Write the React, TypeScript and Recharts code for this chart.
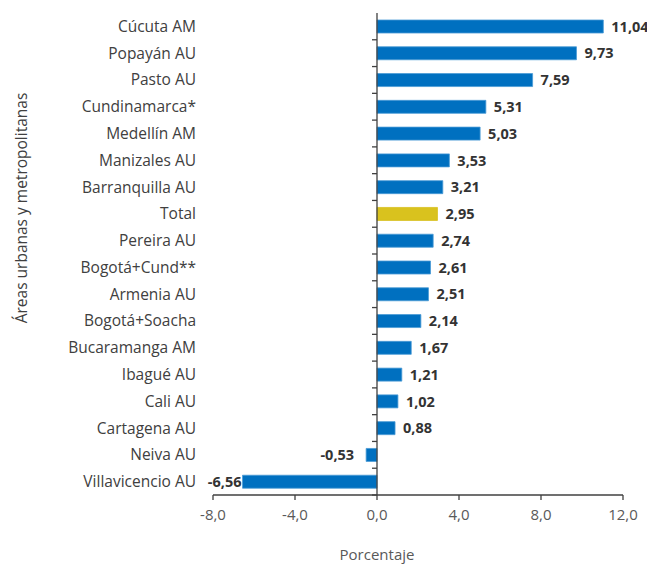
import { Bar, BarChart, Cell, LabelList, ReferenceLine, XAxis, YAxis } from "recharts";

const categories = [
  "Cúcuta AM",
  "Popayán AU",
  "Pasto AU",
  "Cundinamarca*",
  "Medellín AM",
  "Manizales AU",
  "Barranquilla AU",
  "Total",
  "Pereira AU",
  "Bogotá+Cund**",
  "Armenia AU",
  "Bogotá+Soacha",
  "Bucaramanga AM",
  "Ibagué AU",
  "Cali AU",
  "Cartagena AU",
  "Neiva AU",
  "Villavicencio AU",
];

const values = [
  11.04, 9.73, 7.59, 5.31, 5.03, 3.53, 3.21, 2.95, 2.74, 2.61, 2.51, 2.14, 1.67, 1.21,
  1.02, 0.88, -0.53, -6.56,
];

const xTicks = [-8, -4, 0, 4, 8, 12];

const data = categories.map((name, i) => ({ name, value: values[i] }));

const FONT = "'Open Sans', sans-serif";
const BLUE = "#0070C0";
const BLUE_EDGE = "#4A9BD6";
const GOLD = "#D9C21E";
const AXIS = "#404040";

const fmt = (v: number, digits: number) => v.toFixed(digits).replace(".", ",");

// value label just outside the end of each bar
const ValueLabel = (props: any) => {
  const { x, y, width, height, value } = props;
  const end = Math.max(x, x + width);
  const start = Math.min(x, x + width);
  const cy = y + height / 2;
  const neg = value < 0;
  const gap = neg ? (value < -5 ? 1 : 12) : 8;
  return (
    <text
      x={neg ? start - gap : end + gap}
      y={cy}
      dy="0.36em"
      textAnchor={neg ? "end" : "start"}
      fontFamily={FONT}
      fontSize={14.5}
      fontWeight="bold"
      fill="#333"
    >
      {fmt(value, 2)}
    </text>
  );
};

// zero line with small ticks between categories
const ZeroAxis = (props: any) => {
  const { x1, y1, y2 } = props;
  const n = categories.length;
  const step = (y2 - y1) / n;
  const marks = Array.from({ length: n }, (_, i) => y1 + i * step);
  return (
    <g>
      <line x1={x1} y1={y1} x2={x1} y2={y2} stroke={AXIS} strokeWidth={1.3} />
      {marks.map((m, i) => (
        <line key={i} x1={x1 - 5} y1={m} x2={x1} y2={m} stroke={AXIS} strokeWidth={1.3} />
      ))}
    </g>
  );
};

export default function App() {
  return (
    <BarChart
      width={647}
      height={556}
      data={data}
      layout="vertical"
      barSize={13}
      margin={{ top: 5, right: 32, bottom: 9, left: 0 }}
    >
      <XAxis
        type="number"
        domain={[-8, 12]}
        ticks={xTicks}
        tickFormatter={(v) => fmt(v, 1)}
        axisLine={{ stroke: AXIS, strokeWidth: 1.3 }}
        tickLine={{ stroke: AXIS, strokeWidth: 1.3 }}
        tickSize={5}
        tickMargin={9}
        tick={{ fontFamily: FONT, fontSize: 15, fill: "#595959" }}
        height={60}
        label={(p: any) => {
          const vb = p.viewBox;
          return (
            <text x={vb.x + vb.width / 2 - 41} y={vb.y + 65} textAnchor="middle" fontFamily={FONT} fontSize={15} fill="#595959">
              Porcentaje
            </text>
          );
        }}
      />
      <YAxis
        type="category"
        dataKey="name"
        width={205}
        axisLine={false}
        tickLine={false}
        tickSize={0}
        tickMargin={17}
        interval={0}
        tick={{ fontFamily: FONT, fontSize: 15.5, fill: "#404040" }}
        label={(p: any) => {
          const vb = p.viewBox;
          const cx = vb.x + 13;
          const cy = vb.y + vb.height / 2 - 46;
          return (
            <text x={cx} y={cy} transform={`rotate(-90, ${cx}, ${cy})`} textAnchor="middle" dominantBaseline="central" fontFamily={FONT} fontSize={15.5} fill="#404040">
              Áreas urbanas y metropolitanas
            </text>
          );
        }}
      />
      <Bar dataKey="value" isAnimationActive={false} strokeWidth={0.8}>
        {data.map((d) => (
          <Cell key={d.name} fill={d.name === "Total" ? GOLD : BLUE} stroke={d.name === "Total" ? GOLD : BLUE_EDGE} />
        ))}
        <LabelList dataKey="value" content={ValueLabel} />
      </Bar>
      <ReferenceLine x={0} shape={ZeroAxis} ifOverflow="visible" />
    </BarChart>
  );
}
